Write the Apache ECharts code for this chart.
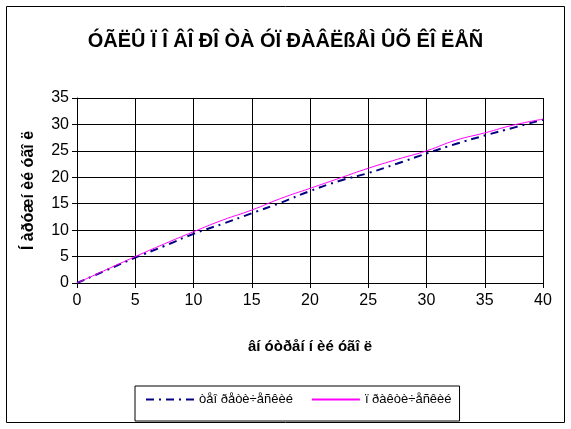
<!DOCTYPE html>
<html>
<head>
<meta charset="utf-8">
<script src="https://cdn.jsdelivr.net/npm/echarts@6/dist/echarts.min.js"></script>
<style>html,body{margin:0;padding:0;background:#fff}#c{width:571px;height:429px}</style>
</head>
<body>
<div id="c"></div>
<script>
const titleText = "ÓÃËÛ Ï Î ÂÎ ÐÎ ÒÀ ÓÏ ÐÀÂËßÅÌ ÛÕ ÊÎ ËÅÑ";
const xTitle = "âí óòðåí í èé óãî ë";
const yTitle = "Í àðóæí èé óãî ë";
const seriesNames = ["òåî ðåòè÷åñêèé", "ï ðàêòè÷åñêèé"];
const xValues = [0, 2.5, 5, 7.5, 10, 12.5, 15, 17.5, 20, 22.5, 25, 27.5, 30, 32.5, 35, 37.5, 40];
const theoretical = [0, 2.4, 4.8, 7.0, 9.3, 11.2, 13.2, 15.2, 17.4, 19.3, 20.8, 22.6, 24.5, 26.3, 27.9, 29.4, 30.9];
const practical = [0, 2.5, 5.0, 7.4, 9.7, 11.9, 13.8, 16.0, 17.9, 19.8, 21.7, 23.4, 25.0, 27.0, 28.4, 29.9, 31.0];
const xTicks = [0, 5, 10, 15, 20, 25, 30, 35, 40];
const yTicks = [0, 5, 10, 15, 20, 25, 30, 35];

const font = "'Liberation Sans', Arial, sans-serif";
const chart = echarts.init(document.getElementById('c'), null, {renderer: 'canvas'});
chart.setOption({
  animation: false,
  backgroundColor: '#fff',
  title: {
    text: titleText, left: 'center', top: 26,
    textStyle: {fontFamily: font, fontSize: 20, fontWeight: 'bold', color: '#000'}
  },
  graphic: [{
    type: 'rect', shape: {x: 6.5, y: 6.5, width: 558, height: 416},
    style: {fill: 'none', stroke: '#000', lineWidth: 1}, z: -1
  }],
  grid: {left: 77, right: 28, top: 98, bottom: 146, containLabel: false},
  legend: {
    data: seriesNames, left: 135, top: 386,
    borderColor: '#000', borderWidth: 1, borderRadius: 0,
    padding: [7, 8, 15, 10], itemGap: 18, itemWidth: 48, itemHeight: 12,
    itemStyle: {opacity: 0},
    textStyle: {fontFamily: font, fontSize: 13, color: '#000'}
  },
  xAxis: {
    type: 'value', min: xTicks[0], max: xTicks[xTicks.length - 1], interval: 5,
    name: xTitle, nameLocation: 'middle', nameGap: 56,
    nameTextStyle: {fontFamily: font, fontSize: 15, fontWeight: 'bold', color: '#000'},
    axisLine: {show: true, lineStyle: {color: '#000', width: 1}},
    axisTick: {show: true, length: 5, lineStyle: {color: '#000'}},
    axisLabel: {fontFamily: font, fontSize: 16, color: '#000', margin: 10},
    splitLine: {show: true, lineStyle: {color: '#000', width: 1}}
  },
  yAxis: {
    type: 'value', min: yTicks[0], max: yTicks[yTicks.length - 1], interval: 5,
    name: yTitle, nameLocation: 'middle', nameGap: 40,
    nameTextStyle: {fontFamily: font, fontSize: 16, fontWeight: 'bold', color: '#000'},
    axisLine: {show: true, lineStyle: {color: '#000', width: 1}},
    axisTick: {show: true, length: 5, lineStyle: {color: '#000'}},
    axisLabel: {fontFamily: font, fontSize: 16, color: '#000', margin: 8},
    splitLine: {show: true, lineStyle: {color: '#000', width: 1}}
  },
  series: [
    {
      name: seriesNames[0], type: 'line', smooth: true, symbol: 'none',
      data: xValues.map((x, i) => [x, theoretical[i]]),
      lineStyle: {color: '#000080', width: 2, type: [8, 5, 2, 5]},
      itemStyle: {color: '#000080'}, z: 2
    },
    {
      name: seriesNames[1], type: 'line', smooth: true, symbol: 'none',
      data: xValues.map((x, i) => [x, practical[i]]),
      lineStyle: {color: '#FF00FF', width: 1, type: 'solid'},
      itemStyle: {color: '#FF00FF'}, z: 3
    }
  ]
});
</script>
</body>
</html>
